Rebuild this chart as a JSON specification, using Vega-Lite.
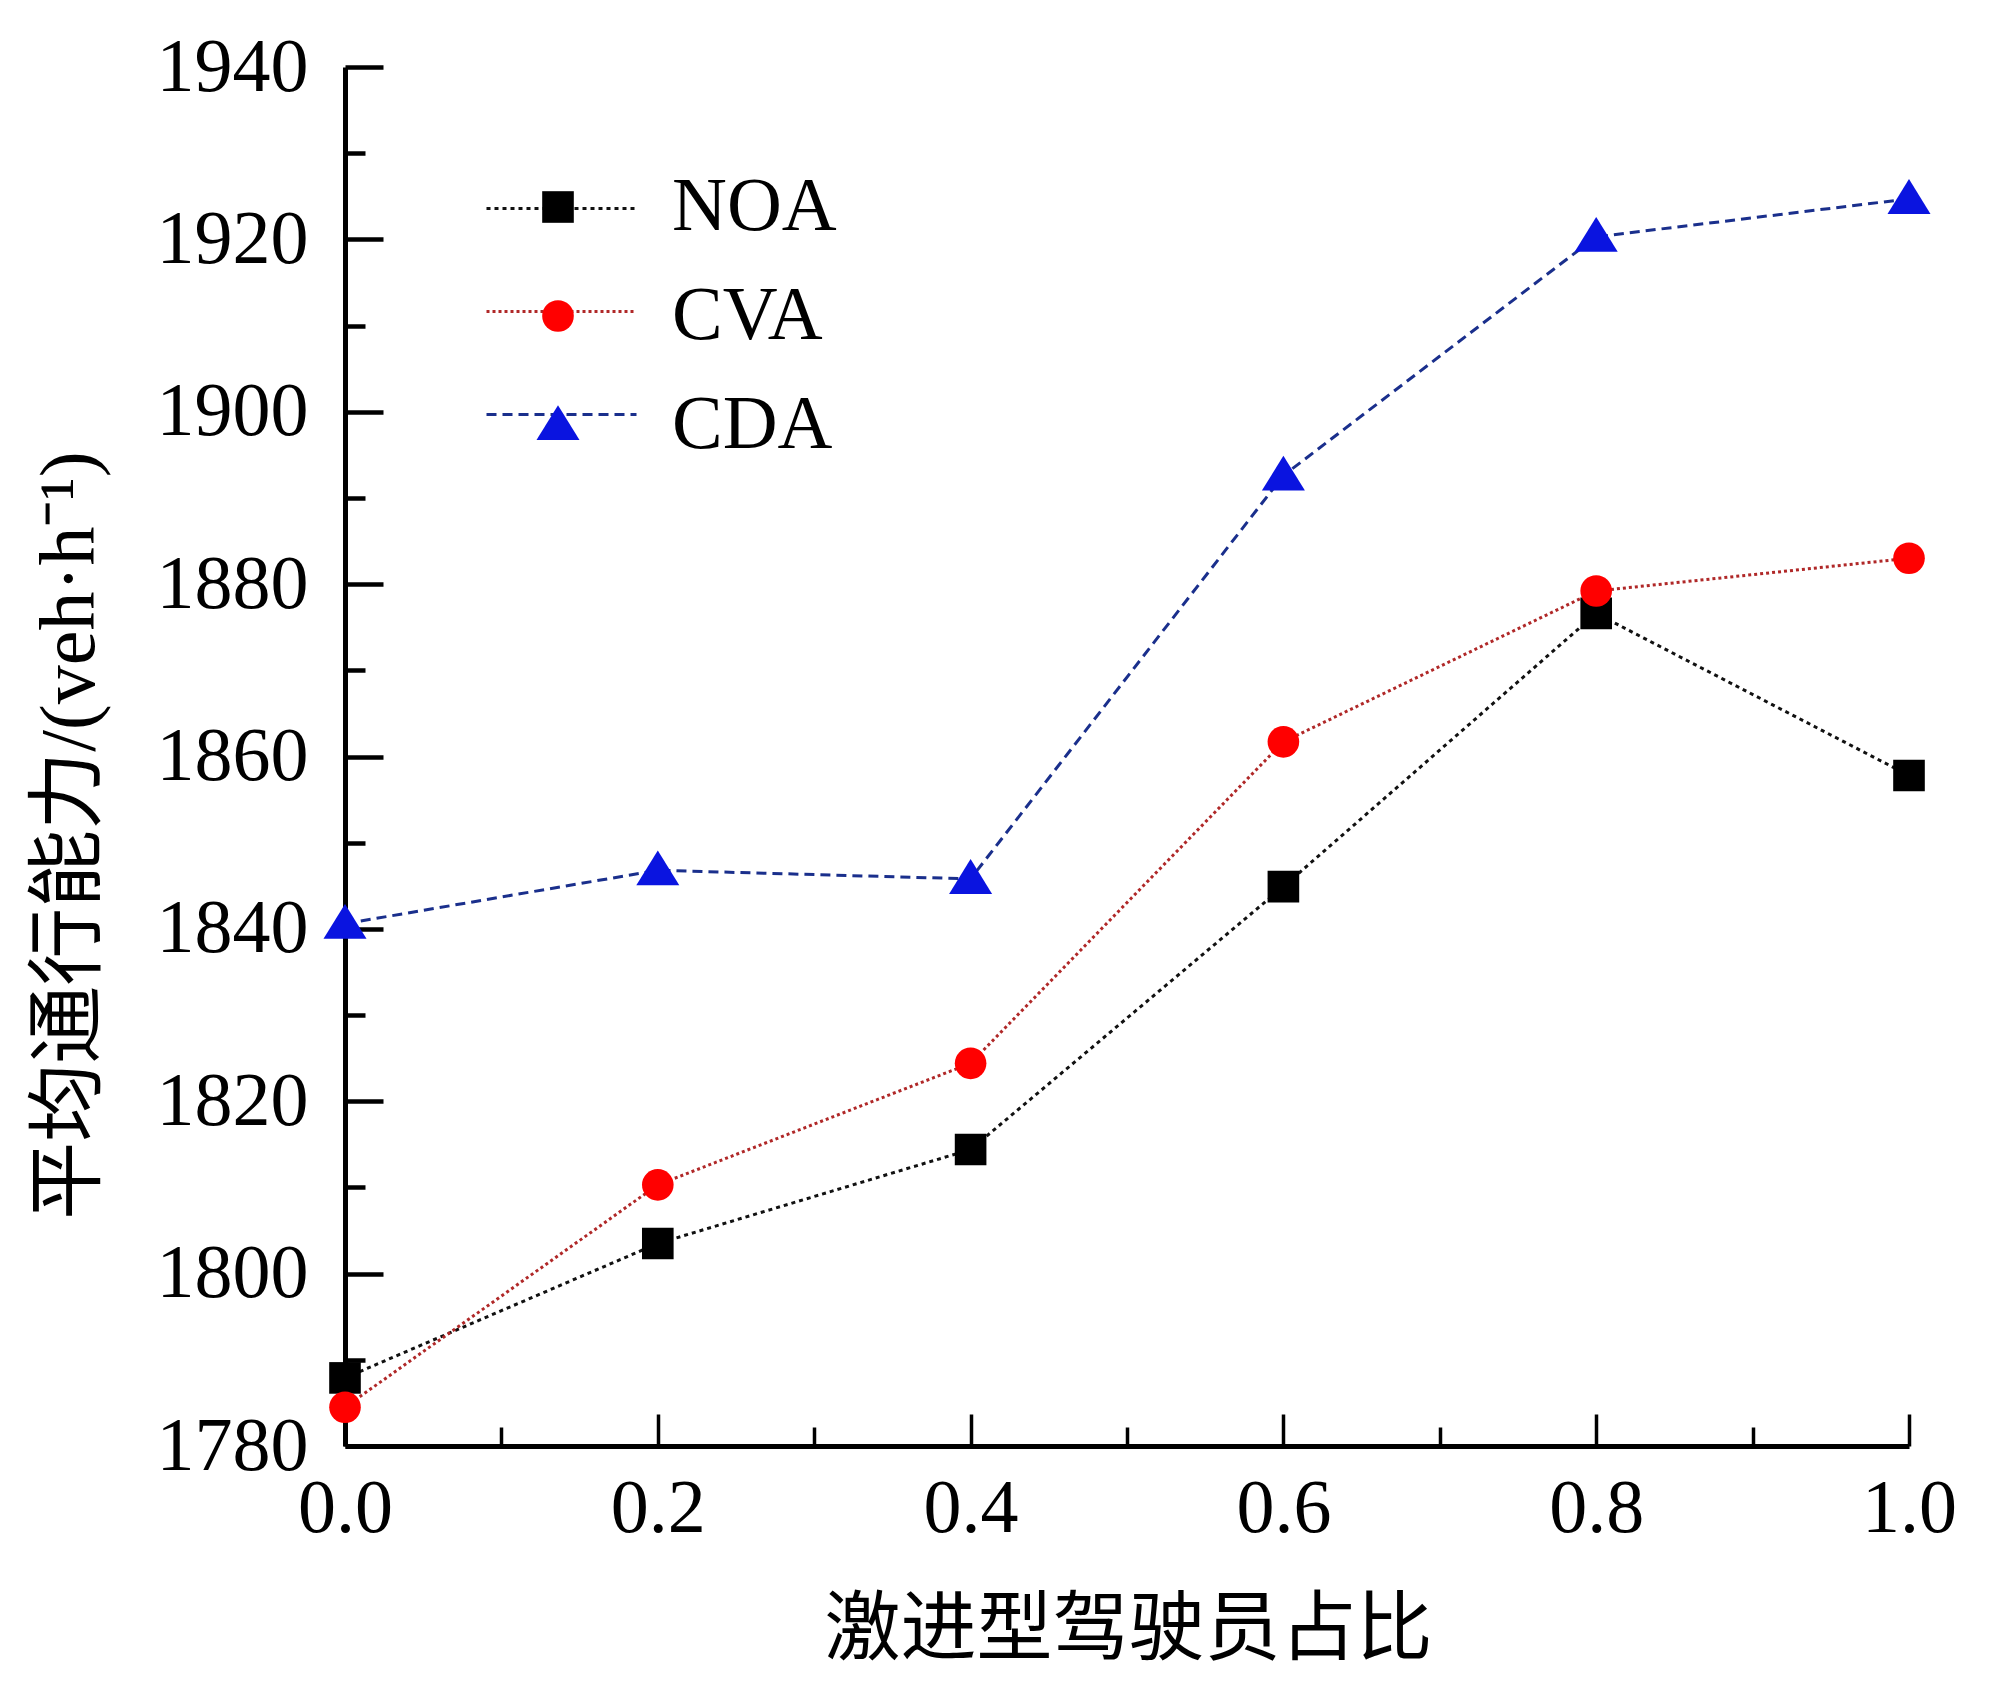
{
  "$schema": "https://vega.github.io/schema/vega-lite/v6.json",
  "width": 1564,
  "height": 1379,
  "autosize": {"type": "none"},
  "padding": {"left": 345, "top": 67, "right": 85, "bottom": 262},
  "background": "white",
  "config": {
    "view": {"stroke": null},
    "axis": {"grid": false, "domainColor": "black", "tickColor": "black", "labelColor": "black", "titleColor": "black"}
  },
  "data": {
    "values": [
      {"p": 0.0, "v": 1787.9, "s": "NOA"},
      {"p": 0.2, "v": 1803.5, "s": "NOA"},
      {"p": 0.4, "v": 1814.4, "s": "NOA"},
      {"p": 0.6, "v": 1844.9, "s": "NOA"},
      {"p": 0.8, "v": 1876.6, "s": "NOA"},
      {"p": 1.0, "v": 1857.8, "s": "NOA"},
      {"p": 0.0, "v": 1784.5, "s": "CVA"},
      {"p": 0.2, "v": 1810.3, "s": "CVA"},
      {"p": 0.4, "v": 1824.4, "s": "CVA"},
      {"p": 0.6, "v": 1861.7, "s": "CVA"},
      {"p": 0.8, "v": 1879.2, "s": "CVA"},
      {"p": 1.0, "v": 1883.0, "s": "CVA"},
      {"p": 0.0, "v": 1840.6, "s": "CDA"},
      {"p": 0.2, "v": 1846.8, "s": "CDA"},
      {"p": 0.4, "v": 1845.8, "s": "CDA"},
      {"p": 0.6, "v": 1892.6, "s": "CDA"},
      {"p": 0.8, "v": 1920.3, "s": "CDA"},
      {"p": 1.0, "v": 1924.7, "s": "CDA"}
    ]
  },
  "encoding": {
    "x": {
      "field": "p", "type": "quantitative",
      "scale": {"domain": [0, 1], "nice": false, "zero": false},
      "axis": {
        "orient": "bottom",
        "values": [0, 0.1, 0.2, 0.3, 0.4, 0.5, 0.6, 0.7, 0.8, 0.9, 1.0],
        "format": ".1f",
        "labelExpr": "round(datum.value*10) % 2 === 0 ? datum.label : ''",
        "labelOverlap": false,
        "labelFlush": false,
        "labelFont": "'Liberation Serif'",
        "labelFontSize": 76,
        "labelPadding": 57,
        "labelBaseline": "top",
        "tickSize": {"condition": {"test": "round(datum.value*10) % 2 === 0", "value": -32}, "value": -19},
        "tickWidth": 3.5,
        "domainWidth": 5,
        "title": "激进型驾驶员占比",
        "titleFont": "'Noto Sans CJK SC'",
        "titleFontSize": 76,
        "titleFontWeight": "normal",
        "titleX": 783,
        "titleY": 147,
        "titleAlign": "center",
        "titleBaseline": "top"
      }
    },
    "y": {
      "field": "v", "type": "quantitative",
      "scale": {"domain": [1780, 1940], "nice": false, "zero": false},
      "axis": {
        "orient": "left",
        "values": [1780, 1790, 1800, 1810, 1820, 1830, 1840, 1850, 1860, 1870, 1880, 1890, 1900, 1910, 1920, 1930, 1940],
        "format": "d",
        "labelExpr": "datum.value % 20 === 0 ? datum.label : ''",
        "labelOverlap": false,
        "labelFlush": false,
        "labelFont": "'Liberation Serif'",
        "labelFontSize": 76,
        "labelPadding": 75,
        "labelBaseline": "middle",
        "tickSize": {"condition": {"test": "datum.value % 20 === 0", "value": -38}, "value": -20},
        "tickWidth": 4.5,
        "domainWidth": 5,
        "title": "平均通行能力/(veh·h⁻¹)",
        "titleFont": "'Liberation Serif', 'Noto Sans CJK SC'",
        "titleFontSize": 78,
        "titleFontWeight": "normal",
        "titleAngle": -90,
        "titleX": -236,
        "titleY": 768,
        "titleAlign": "center",
        "titleBaseline": "bottom"
      }
    }
  },
  "layer": [
    {
      "mark": {"type": "line", "strokeWidth": 3},
      "encoding": {
        "stroke": {
          "field": "s", "type": "nominal",
          "scale": {"domain": ["NOA", "CVA", "CDA"], "range": ["#111111", "#b02828", "#1a2f8c"]},
          "legend": {
            "title": null,
            "orient": "top-left",
            "offset": 125,
            "padding": 0,
            "rowPadding": 80,
            "symbolOffset": 75,
            "labelExpr": "''",
            "labelFontSize": 1,
            "labelOffset": 0,
            "symbolType": "M-5,0H5",
            "symbolSize": 900,
            "symbolStrokeWidth": 3
          }
        },
        "strokeDash": {
          "field": "s", "type": "nominal",
          "scale": {"domain": ["NOA", "CVA", "CDA"], "range": [[4, 4], [3, 3], [10, 6]]},
          "legend": null
        }
      }
    },
    {
      "mark": {"type": "point", "filled": true, "opacity": 1, "size": 1000},
      "encoding": {
        "shape": {
          "field": "s", "type": "nominal",
          "scale": {"domain": ["NOA", "CVA", "CDA"], "range": ["M-1,-1H1V1H-1Z", "circle", "M0,-1.25L1.36,0.95L-1.36,0.95Z"]},
          "legend": {
            "title": null,
            "orient": "none",
            "legendX": 175,
            "legendY": 102,
            "padding": 0,
            "rowPadding": 33,
            "labelOffset": 76,
            "labelLimit": 0,
            "labelFont": "'Liberation Serif'",
            "labelFontSize": 76,
            "labelColor": "black",
            "symbolSize": 1000,
            "symbolStrokeWidth": 0,
            "symbolOpacity": 1
          }
        },
        "fill": {
          "field": "s", "type": "nominal",
          "scale": {"domain": ["NOA", "CVA", "CDA"], "range": ["#000000", "#ff0000", "#0a14e0"]},
          "legend": null
        }
      }
    }
  ]
}
